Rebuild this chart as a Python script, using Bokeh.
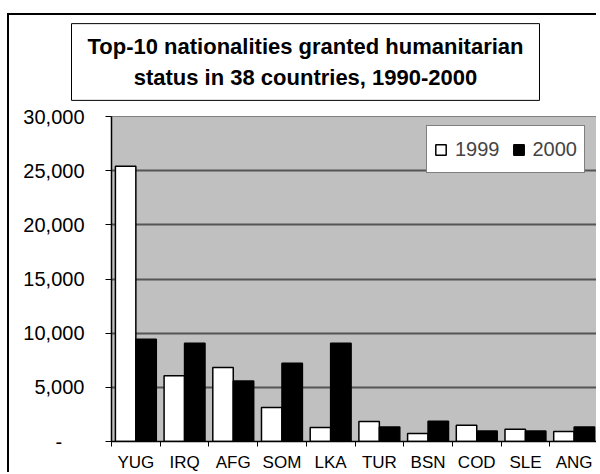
from bokeh.plotting import figure
from bokeh.models import (FixedTicker, Label, Legend, LegendItem, Range1d)
from bokeh.embed import file_html
from bokeh.resources import INLINE

categories = ["YUG", "IRQ", "AFG", "SOM", "LKA", "TUR", "BSN", "COD", "SLE", "ANG"]
values_1999 = [25400, 6080, 6830, 3140, 1300, 1850, 740, 1500, 1130, 920]
values_2000 = [9450, 9080, 5580, 7230, 9080, 1340, 1880, 980, 980, 1350]
series_names = ["1999", "2000"]
y_ticks = [0, 5000, 10000, 15000, 20000, 25000, 30000]
y_tick_labels = ["-\u00a0\u00a0\u00a0\u00a0", "5,000", "10,000", "15,000", "20,000", "25,000", "30,000"]
title_lines = ["Top-10 nationalities granted humanitarian",
               "status in 38 countries, 1990-2000"]

FONT = "Liberation Sans"
OX, OY = 9, 15                      # figure offset on the page (inside outer chart frame)
W, H = 598 - OX, 474 - OY
# plot frame in page pixels
PL, PR, PT, PB = 111, 598, 116, 441
FL, FR, FT, FB = PL - OX, PR - OX, PT - OY, PB - OY
n = len(categories)
YMAX = 30000
centers = [i + 0.5 for i in range(n)]


def cx(px):
    return (px - PL) / (PR - PL) * n


def cy(py):
    return (PB - py) / (PB - PT) * YMAX


p = figure(width=W, height=H, output_backend="svg", toolbar_location=None,
           x_range=Range1d(0, n), y_range=Range1d(0, YMAX),
           min_border_left=FL, min_border_right=max(W - FR, 0), min_border_top=FT,
           min_border_bottom=H - FB)
p.margin = (OY - 2, 0, 0, OX - 2)
p.styles = {"border-left": "2px solid black", "border-top": "2px solid black"}
p.background_fill_color = "#c0c0c0"
p.border_fill_color = "white"
p.outline_line_color = "#808080"
p.outline_line_width = 1

p.xgrid.visible = False
p.ygrid.ticker = FixedTicker(ticks=y_ticks)
p.ygrid.grid_line_color = "#555555"
p.ygrid.grid_line_width = 2

bw = 0.42
r1 = p.vbar(x=[c - bw / 2 for c in centers], top=values_1999, width=bw,
            fill_color="white", line_color="black", line_width=1.5)
r2 = p.vbar(x=[c + bw / 2 for c in centers], top=values_2000, width=bw,
            fill_color="black", line_color="black", line_width=1.5)

xa = p.xaxis[0]
xa.ticker = FixedTicker(ticks=centers, minor_ticks=list(range(n + 1)))
xa.major_label_overrides = {c: lab for c, lab in zip(centers, categories)}
xa.major_tick_in = 0
xa.major_tick_out = 0
xa.minor_tick_in = 0
xa.minor_tick_out = 5
xa.minor_tick_line_color = "black"
xa.axis_line_color = "black"
xa.axis_line_width = 1.5
xa.major_label_standoff = 6
xa.major_label_text_font = FONT
xa.major_label_text_font_size = "17px"
xa.major_label_text_color = "black"

ya = p.yaxis[0]
ya.ticker = FixedTicker(ticks=y_ticks)
ya.major_label_overrides = {t: s for t, s in zip(y_ticks, y_tick_labels)}
ya.major_tick_in = 0
ya.major_tick_out = 6
ya.major_tick_line_color = "black"
ya.minor_tick_line_color = None
ya.axis_line_color = "black"
ya.axis_line_width = 1.5
ya.major_label_standoff = 21
ya.major_label_text_font = FONT
ya.major_label_text_font_size = "20px"
ya.major_label_text_color = "black"

legend = Legend(items=[LegendItem(label=series_names[0], renderers=[r1]),
                       LegendItem(label=series_names[1], renderers=[r2])],
                orientation="horizontal", location=(426 - PL, PB - 173))
legend.label_text_font = FONT
legend.label_text_font_size = "20px"
legend.glyph_width = 13
legend.glyph_height = 13
legend.label_standoff = 8
legend.spacing = 12
legend.padding = 7
legend.label_height = 32
legend.margin = 0
legend.border_line_color = "black"
legend.border_line_width = 1
legend.background_fill_color = "white"
legend.background_fill_alpha = 1
p.add_layout(legend)

# boxed two-line title, placed in the side panel above the plot
title = Label(x=cx(305), y=cy(61.5), text="\n".join(title_lines),
              text_align="center", text_baseline="middle",
              text_font=FONT, text_font_size="22px", text_font_style="bold",
              text_color="black", text_line_height=1.27,
              padding=(16, 10), border_line_color="black", border_line_width=1,
              background_fill_color="white")
p.add_layout(title, "above")

open("out.html", "w").write(file_html(p, INLINE))
